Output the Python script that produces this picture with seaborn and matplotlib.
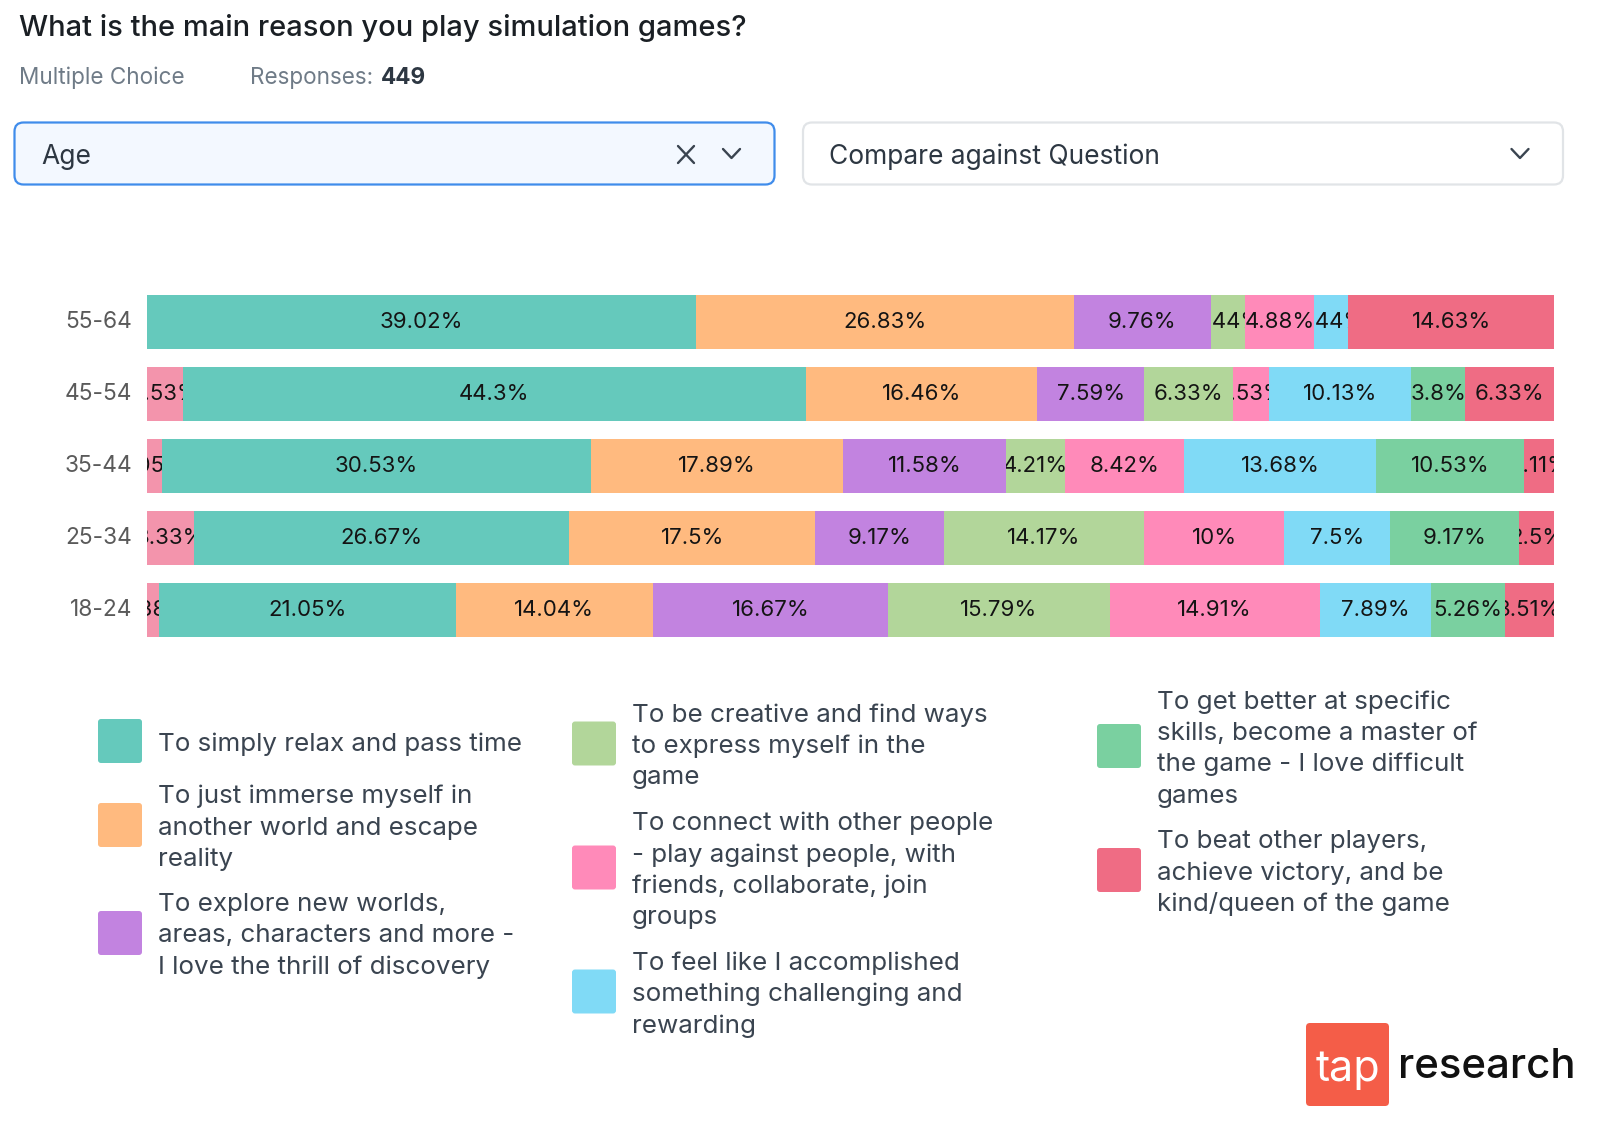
import matplotlib
matplotlib.use("Agg")
import matplotlib.pyplot as plt
import numpy as np
import pandas as pd
import seaborn as sns
from matplotlib.patches import FancyBboxPatch
from matplotlib.transforms import ScaledTranslation

sns.set_theme(style="white")
plt.rcParams["font.family"] = ["Inter", "DejaVu Sans"]

# survey numbers, percent per age group
ages = ["55-64", "45-54", "35-44", "25-34", "18-24"]
no_answer = [0, 2.53, 1.05, 3.33, 0.88]
relax = [39.02, 44.3, 30.53, 26.67, 21.05]
immerse = [26.83, 16.46, 17.89, 17.5, 14.04]
explore = [9.76, 7.59, 11.58, 9.17, 16.67]
creative = [2.44, 6.33, 4.21, 14.17, 15.79]
connect = [4.88, 2.53, 8.42, 10, 14.91]
accomplish = [2.44, 10.13, 13.68, 7.5, 7.89]
skills = [0, 3.8, 10.53, 9.17, 5.26]
beat = [14.63, 6.33, 2.11, 2.5, 3.51]

series = [no_answer, relax, immerse, explore, creative, connect, accomplish, skills, beat]
colors = ["#F394AC", "#65C9BC", "#FFBA7F", "#C283E0", "#B2D69A",
          "#FF8AB9", "#80DAF6", "#7AD0A0", "#EF6C84"]

legend_cols = [
    [("To simply relax and pass time", "#65C9BC"),
     ("To just immerse myself in\nanother world and escape\nreality", "#FFBA7F"),
     ("To explore new worlds,\nareas, characters and more -\nI love the thrill of discovery", "#C283E0")],
    [("To be creative and find ways\nto express myself in the\ngame", "#B2D69A"),
     ("To connect with other people\n- play against people, with\nfriends, collaborate, join\ngroups", "#FF8AB9"),
     ("To feel like I accomplished\nsomething challenging and\nrewarding", "#80DAF6")],
    [("To get better at specific\nskills, become a master of\nthe game - I love difficult\ngames", "#7AD0A0"),
     ("To beat other players,\nachieve victory, and be\nkind/queen of the game", "#EF6C84")],
]

W, H = 1600, 1124
fig = plt.figure(figsize=(W / 100, H / 100), dpi=100, facecolor="white")

# overlay in pixel coordinates for the survey UI around the chart
ui = fig.add_axes([0, 0, 1, 1])
ui.set_xlim(0, W)
ui.set_ylim(H, 0)
ui.axis("off")

ax = fig.add_axes([147 / W, 1 - 645.7 / H, 1407 / W, 360 / H])
ax.patch.set_alpha(0)

left = np.zeros(len(ages))
for vals, color in zip(series, colors):
    df = pd.DataFrame({"age": ages, "pct": vals})
    sns.barplot(data=df, y="age", x="pct", order=ages, color=color, saturation=1,
                width=0.75, errorbar=None, left=left, linewidth=0, edgecolor="none", ax=ax)
    bars = ax.containers[-1]
    labels = [f"{v:g}%" if v > 0 else "" for v in vals]
    texts = ax.bar_label(bars, labels=labels, label_type="center",
                         fontsize=16, color="#141414")
    # long labels get cut at the edge of their segment
    for t, rect in zip(texts, bars):
        t.set_clip_on(True)
        t.set_clip_path(rect)
    left = left + np.array(vals)

ax.set_xlim(0, 100)
ax.set_ylim(4.5, -0.5)
ax.set(xlabel="", ylabel="")
ax.set_xticks([])
ax.tick_params(axis="y", length=0, pad=10.8, labelsize=16.4, labelcolor="#5A5A5A")
nudge = ScaledTranslation(0, 1.7 / 72, fig.dpi_scale_trans)
for lab in ax.get_yticklabels():
    lab.set_transform(lab.get_transform() + nudge)
sns.despine(ax=ax, left=True, bottom=True)

# header
ui.text(19, 28, "What is the main reason you play simulation games?", fontsize=20.95,
        color="#1A1F24", weight="medium", va="center")
ui.text(19, 78, "Multiple Choice", fontsize=16.2, color="#6F7B87", va="center")
ui.text(250, 78, "Responses:", fontsize=16.2, color="#6F7B87", va="center")
ui.text(381, 78, "449", fontsize=16.2, color="#2D3742", weight="bold", va="center")

# dropdowns
ui.add_patch(FancyBboxPatch((14.5, 122.5), 760, 62, boxstyle="round,pad=0,rounding_size=9",
                            fc="#F3F8FF", ec="#3F8CEB", lw=1.6))
ui.add_patch(FancyBboxPatch((803, 122.5), 760, 62, boxstyle="round,pad=0,rounding_size=9",
                            fc="white", ec="#E1E4E7", lw=1.6))
ui.text(41, 157, "Age", fontsize=19, color="#2D3742", va="center")
ui.text(829, 157, "Compare against Question", fontsize=19, color="#2D3742", va="center")
ui.plot([678, 694], [146, 163], color="#3A4450", lw=1.7)
ui.plot([678, 694], [163, 146], color="#3A4450", lw=1.7)
for cx in (731.5, 1520):
    ui.plot([cx - 8.5, cx, cx + 8.5], [149, 158, 149], color="#3A4450", lw=1.7)

# legend drawn by hand, three columns of different height
col_x = [98, 572, 1097]
col_y = [[741, 825, 933], [743.5, 867.5, 991.5], [746, 870]]
for col, xs, ys in zip(legend_cols, col_x, col_y):
    for (label, color), cy in zip(col, ys):
        ui.add_patch(FancyBboxPatch((xs, cy - 22), 44, 44, boxstyle="round,pad=0,rounding_size=3",
                                    fc=color, ec="none"))
        lines = label.split("\n")
        for i, line in enumerate(lines):
            ui.text(xs + 59.6, cy + 3 + (i - (len(lines) - 1) / 2) * 31.4, line, fontsize=18.7,
                    color="#3A4450", va="center")

# logo
ui.add_patch(FancyBboxPatch((1306, 1023), 83, 83, boxstyle="round,pad=0,rounding_size=4",
                            fc="#F45D48", ec="none"))
ui.text(1347.5, 1070, "tap", fontsize=31, color="white", ha="center", va="center")
ui.text(1398, 1067, "research", fontsize=30.2, color="#111111", va="center", weight="medium")

fig.savefig("out.png", dpi=100)
plt.close(fig)
